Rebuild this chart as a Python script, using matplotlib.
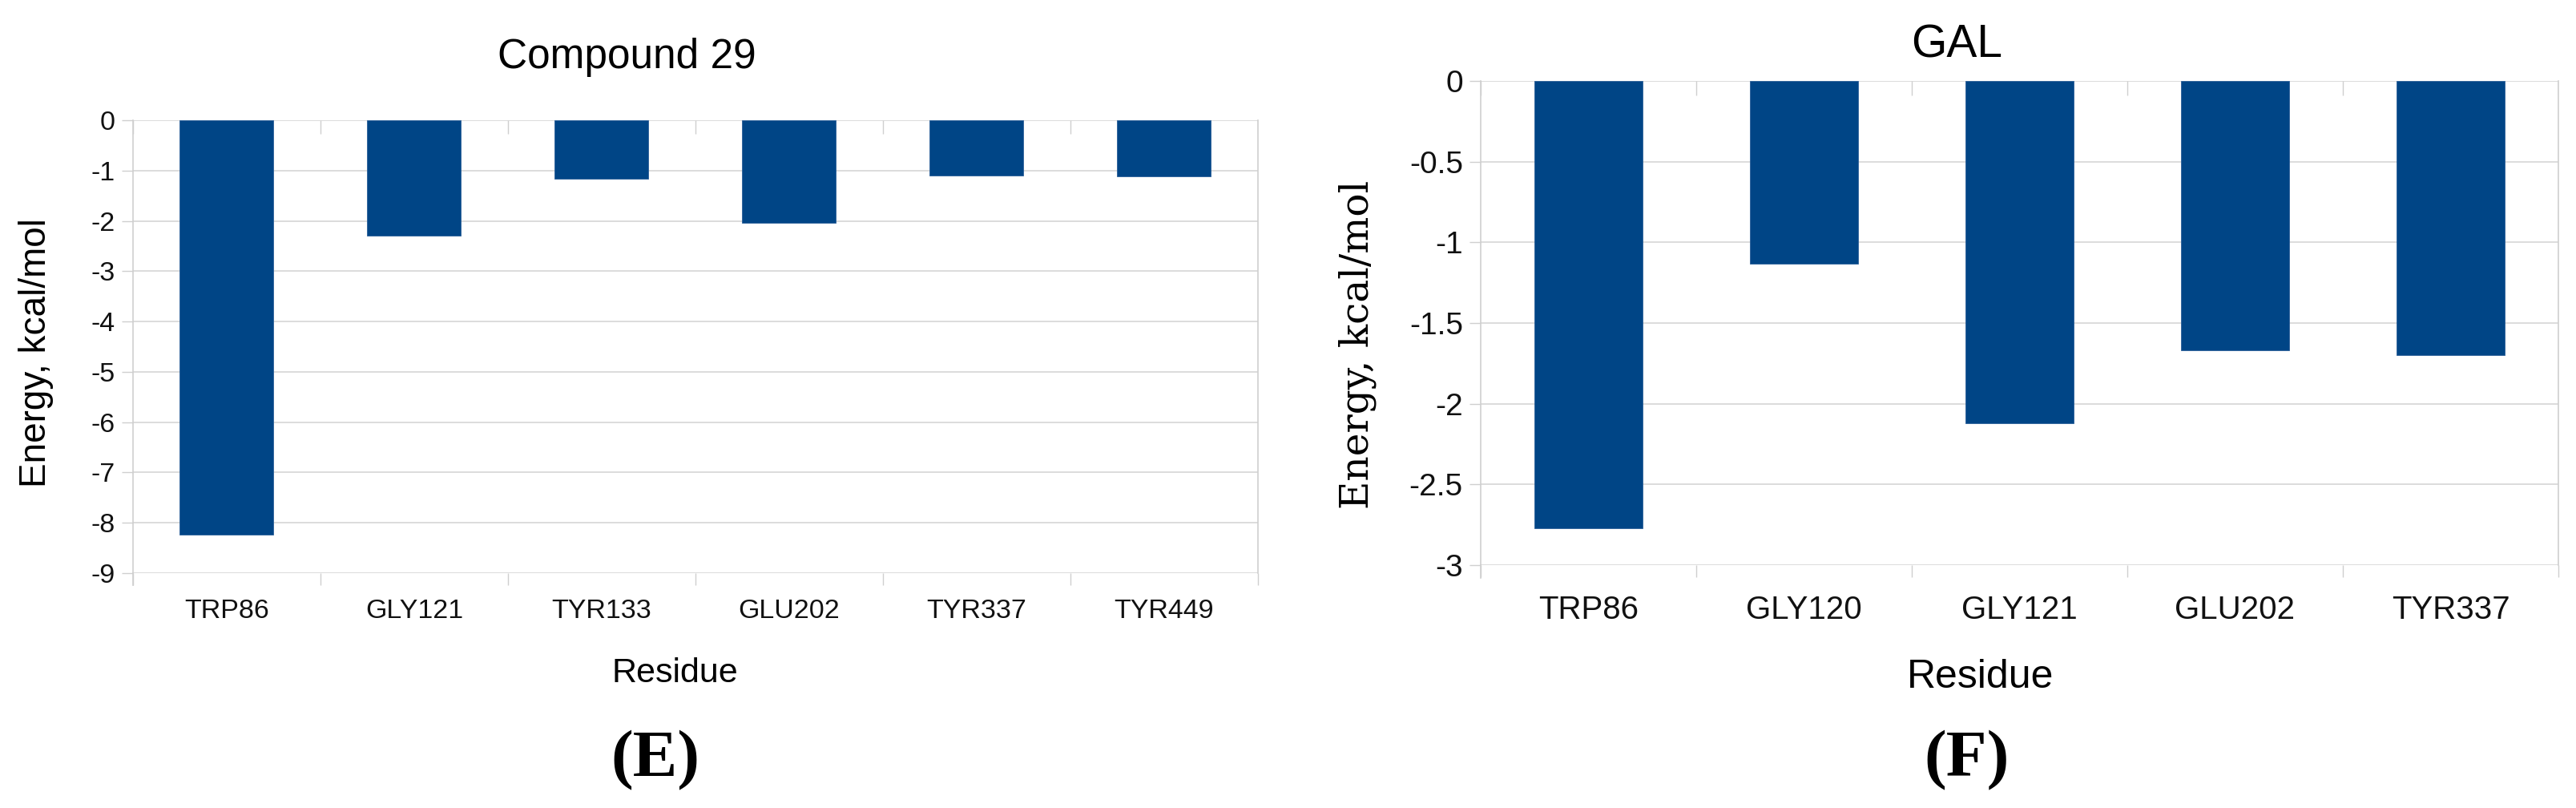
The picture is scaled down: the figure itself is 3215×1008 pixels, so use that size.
import numpy as np
import matplotlib
matplotlib.use('Agg')
import matplotlib.pyplot as plt
import matplotlib.ticker as mtick

# Data
compound29_residues = ['TRP86', 'GLY121', 'TYR133', 'GLU202', 'TYR337', 'TYR449']
compound29_energy = [-8.23, -2.30, -1.17, -2.04, -1.10, -1.11]

gal_residues = ['TRP86', 'GLY120', 'GLY121', 'GLU202', 'TYR337']
gal_energy = [-2.77, -1.13, -2.12, -1.67, -1.70]

bar_color = '#004586'
grid_color = '#dcdcdc'
axis_color = '#cfcfcf'

plt.rcParams['font.family'] = ['Liberation Sans', 'DejaVu Sans']
plt.rcParams['axes.unicode_minus'] = False

W, H = 3216, 1008
fig = plt.figure(figsize=(W / 100, H / 100), dpi=100)


def px_axes(x0, x1, ytop, ybot):
    return fig.add_axes([x0 / W, 1 - ybot / H, (x1 - x0) / W, (ybot - ytop) / H])


def style_axes(ax, names, values, ymin, ystep, xtick_size, ytick_size, xpad, ypad):
    n = len(names)
    x = np.arange(n)
    ax.bar(x, values, width=0.5, color=bar_color, edgecolor='#2a5f99', linewidth=0.6, zorder=3)
    ax.set_xlim(-0.5, n - 0.5)
    ax.set_ylim(ymin, 0)
    ax.set_yticks(np.arange(0, ymin - ystep / 2, -ystep))
    ax.yaxis.set_major_formatter(mtick.FormatStrFormatter('%g'))
    ax.grid(axis='y', color=grid_color, linewidth=1.4, zorder=0)
    ax.set_axisbelow(True)
    for s in ['top', 'bottom']:
        ax.spines[s].set_visible(False)
    for s in ['left', 'right']:
        ax.spines[s].set_color(axis_color)
        ax.spines[s].set_linewidth(1.2)
    # left spine continues a little below the last gridline
    ax.plot([0, 0], [0, -0.027], transform=ax.transAxes, color=axis_color, lw=1.2, clip_on=False)
    ax.set_xticks(x)
    ax.set_xticklabels(names)
    ax.set_xticks(np.arange(-0.5, n, 1.0), minor=True)
    ax.tick_params(axis='x', which='major', length=0, labelsize=xtick_size, pad=xpad, labelcolor='#111111')
    ax.tick_params(axis='x', which='minor', length=10.5, width=1.0, color=axis_color, direction='out')
    ax.tick_params(axis='y', length=10, width=1.0, color=axis_color, labelsize=ytick_size, pad=ypad,
                   labelcolor='#111111')
    # category tick marks hanging from the zero line
    ax.vlines(np.arange(-0.5, n, 1.0), 0, -0.03 * (-ymin), color=axis_color, lw=1.0, zorder=1)


# (E) Compound 29
ax1 = px_axes(166, 1570, 150, 715)
style_axes(ax1, compound29_residues, compound29_energy, -9, 1, 24.5, 24.5, 23, 6)
fig.text(782 / W, 1 - 85 / H, 'Compound 29', ha='center', va='baseline', fontsize=37)
fig.text(45 / W, 1 - 440 / H, 'Energy, kcal/mol', rotation=90, ha='center', va='center', fontsize=33)
fig.text(842 / W, 1 - 851 / H, 'Residue', ha='center', va='baseline', fontsize=31)
fig.text(818 / W, 1 - 968 / H, '(E)', ha='center', va='baseline', fontsize=60,
         family='Liberation Serif', fontweight='bold')

# (F) GAL
ax2 = px_axes(1848, 3193, 101, 705)
style_axes(ax2, gal_residues, gal_energy, -3, 0.5, 29, 28, 27, 6)
fig.text(2442 / W, 1 - 71 / H, 'GAL', ha='center', va='baseline', fontsize=41)
fig.text(1694 / W, 1 - 430 / H, 'Energy, kcal/mol', rotation=90, ha='center', va='center', fontsize=35,
         family='DejaVu Serif')
fig.text(2472 / W, 1 - 858 / H, 'Residue', ha='center', va='baseline', fontsize=36)
fig.text(2455 / W, 1 - 968 / H, '(F)', ha='center', va='baseline', fontsize=60,
         family='Liberation Serif', fontweight='bold')

fig.savefig('out.png', dpi=100, facecolor='white')
